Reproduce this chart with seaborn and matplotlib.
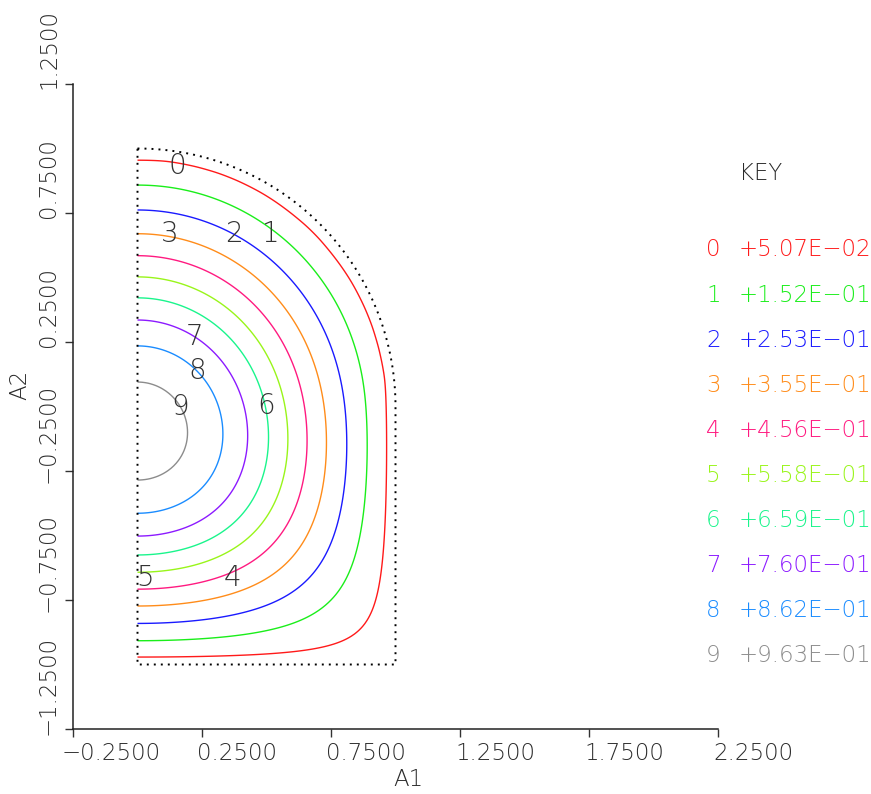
import numpy as np
import matplotlib
matplotlib.use("Agg")
import matplotlib.pyplot as plt
import seaborn as sns
from matplotlib.transforms import offset_copy

# contour levels read from the KEY
level_ids = ["0", "1", "2", "3", "4", "5", "6", "7", "8", "9"]
levels = [0.0507, 0.152, 0.253, 0.355, 0.456, 0.558, 0.659, 0.760, 0.862, 0.963]
level_colors = ["#ff1a1a", "#1aee1a", "#1a1aff", "#ff8c1a", "#ff1a80",
                "#99f51a", "#1af58c", "#8c1aff", "#1a8cff", "#8c8c8c"]
peak_value = 1.0139

# where the contour numbers sit inside the plot (A1, A2)
label_ids = ["0", "1", "2", "3", "4", "5", "6", "7", "8", "9"]
label_a1 = [0.155, 0.517, 0.374, 0.126, 0.368, 0.031, 0.500, 0.223, 0.233, 0.165]
label_a2 = [0.932, 0.669, 0.669, 0.669, -0.663, -0.663, 0.002, 0.270, 0.138, -0.002]

# domain: quarter disc on top of a unit square, symmetry plane at A1 = 0
domain_radius = 1.0
domain_bottom = -1.0
# field model tuned to the picture: density ramp, vertical stiffness, profile bend
density_slope = 0.18
vertical_stiffness = 1.08
profile_bend = 0.8

xticks = [-0.25, 0.25, 0.75, 1.25, 1.75, 2.25]
yticks = [-1.25, -0.75, -0.25, 0.25, 0.75, 1.25]

# fundamental mode of -(u_xx + k*u_yy) = lam * w * u,
# u = 0 on the outer edge, du/dn = 0 at A1 = 0
gx = np.linspace(0, domain_radius, 101)
gy = np.linspace(domain_bottom, domain_radius, 201)
X, Y = np.meshgrid(gx, gy)
eps = 1e-9
inside = ((Y >= 0) & (X**2 + Y**2 < domain_radius**2 - eps)) | \
         ((Y < 0) & (X < domain_radius - eps) & (Y > domain_bottom + eps))
w = np.exp(-density_slope * Y)
step = 0.23 * w.min() / w
kv = vertical_stiffness
P = np.zeros((Y.shape[0] + 2, Y.shape[1] + 2))
P[1:-1, 1:-1] = np.where(inside, np.clip(1 - X**2 - (Y + 0.1)**2, 0, None), 0.0)
core = P[1:-1, 1:-1]
for k in range(50000):
    P[:, 0] = P[:, 2]
    lap = (P[1:-1, :-2] + P[1:-1, 2:] - 2 * core) + \
          kv * (P[:-2, 1:-1] + P[2:, 1:-1] - 2 * core)
    core += step * lap
    core *= inside
    if k % 1000 == 0:
        core /= core.max()
n = core / core.max()
U = peak_value * (n - profile_bend * n**2 * (1 - n) ** 2)

sns.set_theme(style="white")
plt.rcParams["font.family"] = ["DejaVu Sans"]
plt.rcParams["font.weight"] = "light"
txt = "#2b2b2b"
fs = 16.5

fig = plt.figure(figsize=(8.71, 7.94), dpi=100)
ax = fig.add_axes([73 / 871, 65 / 794, 645 / 871, 645 / 794])

ax.contour(X, Y, U, levels=levels, colors=level_colors, linewidths=1.0)

# dotted outline of the domain
theta = np.linspace(np.pi / 2, 0, 90)
bx = list(domain_radius * np.cos(theta)) + [domain_radius, 0, 0]
by = list(domain_radius * np.sin(theta)) + [domain_bottom, domain_bottom, domain_radius]
sns.lineplot(x=bx, y=by, sort=False, estimator=None, ax=ax, color="black",
             linewidth=1.4, linestyle=(0, (1, 2.6)))

for s, a1, a2 in zip(label_ids, label_a1, label_a2):
    ax.text(a1, a2, s, fontsize=20, color="#333333", ha="center", va="center")

ax.set_xlim(-0.25, 2.25)
ax.set_ylim(-1.25, 1.25)
ax.set_xticks(xticks)
ax.set_yticks(yticks)
ax.set_xticklabels([])
ax.set_yticklabels([])
ax.tick_params(direction="out", length=6, width=1, color="#333333",
               bottom=True, left=True)
for side in ["top", "right"]:
    ax.spines[side].set_visible(False)
for side in ["left", "bottom"]:
    ax.spines[side].set_color("#222222")
    ax.spines[side].set_linewidth(1.1)

# ANSYS-style tick labels: text starts at the tick
for t in xticks:
    s = f"{t:.4f}".replace("-", "\u2212")
    dx = -11 if t < 0 else -5
    tr = offset_copy(ax.get_xaxis_transform(), fig=fig, x=dx, y=-13, units="dots")
    ax.text(t, 0, s, transform=tr, ha="left", va="top", fontsize=fs, color=txt)
for t in yticks:
    s = f"{t:.4f}".replace("-", "\u2212")
    dy = -12 if t < 0 else -5
    if t == yticks[0]:
        dy = -6
    tr = offset_copy(ax.get_yaxis_transform(), fig=fig, x=-18, y=dy, units="dots")
    ax.text(0, t, s, transform=tr, rotation=90, rotation_mode="anchor",
            ha="left", va="baseline", fontsize=fs, color=txt)

fig.text(408 / 871, 1 - 780 / 794, "A1", fontsize=fs, color=txt, ha="center", va="center")
fig.text(20 / 871, 1 - 385 / 794, "A2", fontsize=fs, color=txt, ha="center", va="center",
         rotation=90)

# KEY
fig.text(739 / 871, 1 - 173 / 794, "KEY", fontsize=fs, color=txt, ha="left", va="center")
for i, (lid, lev, col) in enumerate(zip(level_ids, levels, level_colors)):
    yy = 1 - (250 + 45.1 * i) / 794
    fig.text(706 / 871, yy, lid, fontsize=fs, color=col, ha="left", va="center")
    val = f"{lev:+.2E}".replace("-", "\u2212")
    fig.text(739 / 871, yy, val, fontsize=fs, color=col, ha="left", va="center")

fig.savefig("out.png", dpi=100)
